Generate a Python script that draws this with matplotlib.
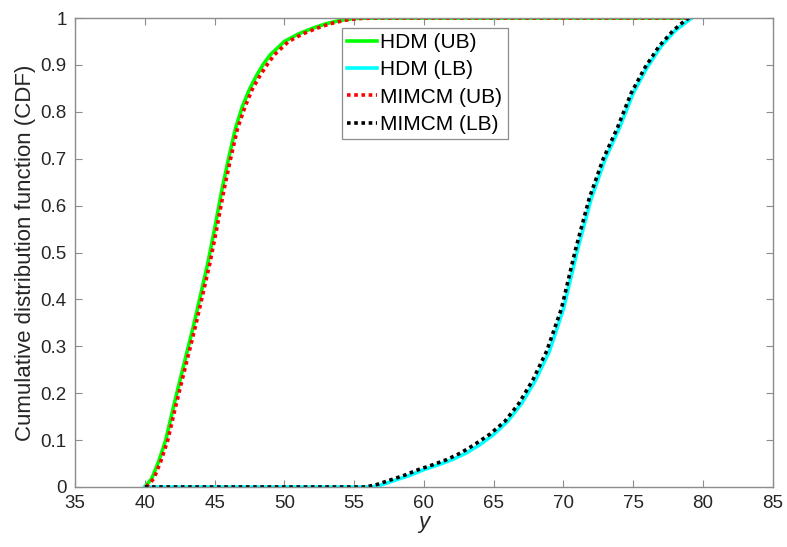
import numpy as np
import matplotlib
matplotlib.use("Agg")
from matplotlib import pyplot as plt

plt.rcParams['font.family'] = ['Liberation Sans', 'DejaVu Sans']

# HDM upper bound
x_hdm_ub = [40, 40.5, 41, 41.5, 42, 42.5, 43, 43.5, 44, 44.5, 45, 45.5, 46, 46.5, 47,
            47.5, 48, 48.5, 49, 50, 51, 52, 53, 54, 55, 56, 79]
y_hdm_ub = [0, 0.018, 0.055, 0.10, 0.164, 0.225, 0.285, 0.345, 0.41, 0.475, 0.55, 0.63,
            0.70, 0.765, 0.812, 0.848, 0.877, 0.902, 0.922, 0.95, 0.966, 0.978, 0.988,
            0.995, 0.999, 1, 1]

# MIMCM upper bound
x_mim_ub = [40.1, 40.65, 41.15, 41.65, 42.15, 42.65, 43.15, 43.65, 44.15, 44.65, 45.15,
            45.65, 46.15, 46.65, 47.2, 47.7, 48.25, 48.8, 49.3, 50.3, 51.3, 52.3, 53.3,
            54.3, 55.3, 56.5, 79]
y_mim_ub = y_hdm_ub

# HDM lower bound
x_hdm_lb = [40, 56.3, 57, 58, 59, 60, 61, 62, 63, 64, 65, 66, 67, 68, 69, 70, 71, 72,
            73, 74, 75, 76, 77, 78, 79, 79.2]
y_hdm_lb = [0, 0, 0.005, 0.015, 0.025, 0.037, 0.047, 0.058, 0.072, 0.09, 0.112, 0.14,
            0.178, 0.228, 0.29, 0.38, 0.505, 0.616, 0.70, 0.765, 0.84, 0.895, 0.94,
            0.973, 0.996, 1]

# MIMCM lower bound
x_mim_lb = [40, 55.8, 56.6, 57.6, 58.6, 59.6, 60.6, 61.6, 62.6, 63.6, 64.7, 65.8, 66.8,
            67.8, 68.8, 69.85, 70.85, 71.85, 72.85, 73.85, 74.85, 75.85, 76.85, 77.85,
            78.75, 79.0]
y_mim_lb = y_hdm_lb

fig = plt.figure(figsize=(7.87, 5.47), dpi=100)
ax = fig.add_axes([0.0953, 0.1097, 0.8867, 0.8573])

ax.plot(x_hdm_ub, y_hdm_ub, color='#00ff00', lw=2.6, label='HDM (UB)')
ax.plot(x_hdm_lb, y_hdm_lb, color='#00ffff', lw=2.6, label='HDM (LB)')
ax.plot(x_mim_ub, y_mim_ub, color='#ff0000', lw=2.6, ls=(0, (1, 1)), label='MIMCM (UB)')
ax.plot(x_mim_lb, y_mim_lb, color='#000000', lw=2.6, ls=(0, (1, 1)), label='MIMCM (LB)')

ax.set_xlim(35, 85)
ax.set_ylim(0, 1)
ax.set_xticks(np.arange(35, 86, 5))
yt = np.round(np.arange(0, 1.01, 0.1), 1)
ax.set_yticks(yt)
ax.set_yticklabels(['0'] + ['%.1f' % v for v in yt[1:-1]] + ['1'])

for s in ax.spines.values():
    s.set_color('#8c8c8c')
    s.set_linewidth(1.0)
ax.tick_params(direction='in', top=True, right=True, length=5, width=0.8,
               color='#8c8c8c', labelcolor='#262626', labelsize=13.5, pad=6)

ax.set_xlabel('y', fontsize=16, style='italic', color='#262626', labelpad=0)
ax.set_ylabel('Cumulative distribution function (CDF)', fontsize=16, color='#262626',
              labelpad=3)

leg = ax.legend(loc='upper left', bbox_to_anchor=(0.3825, 0.979), fontsize=15,
                frameon=True, fancybox=False, handlelength=1.45, handletextpad=0.15,
                borderpad=0.25, labelspacing=0.4, borderaxespad=0)
leg.get_frame().set_edgecolor('#8c8c8c')
leg.get_frame().set_linewidth(0.9)
leg.get_frame().set_alpha(1)

fig.savefig('out.png', dpi=100)
